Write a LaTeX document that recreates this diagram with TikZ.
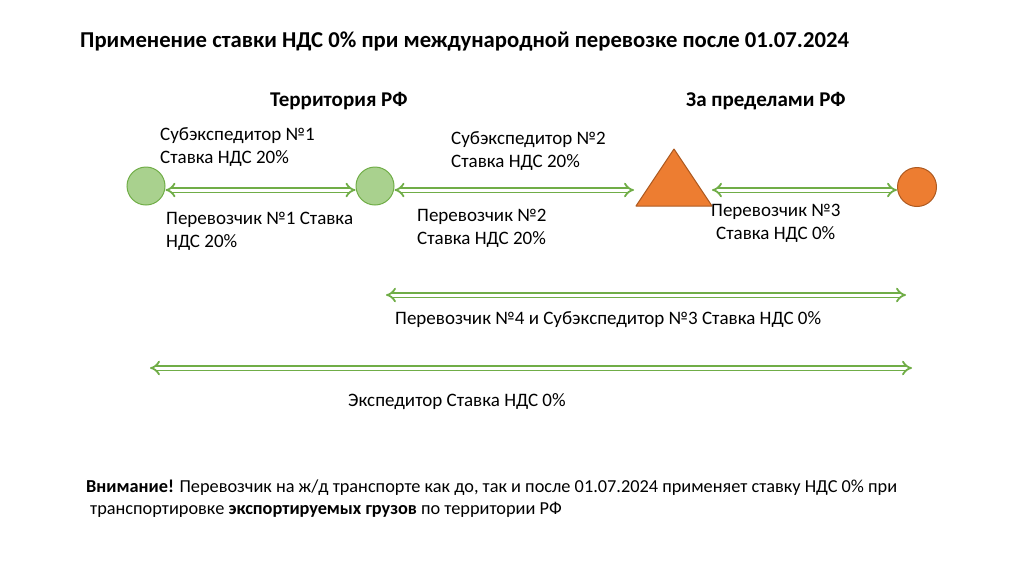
\documentclass[tikz,border=0pt]{standalone}
\usepackage{fontspec}
\setmainfont{Carlito}
\usetikzlibrary{arrows.meta,positioning}
\definecolor{vatGreen}{RGB}{169,209,142}
\definecolor{vatGreenLine}{RGB}{112,173,71}
\definecolor{vatOrange}{RGB}{237,125,49}
\definecolor{vatOrangeLine}{RGB}{174,90,33}

\begin{document}
\begin{tikzpicture}[
  x=1pt, y=-1pt,
  font=\fontsize{19}{23}\selectfont,
  ru/.style={circle, draw=vatGreenLine, line width=1pt, fill=vatGreen, minimum size=38pt, inner sep=0pt},
  abroad/.style={circle, draw=vatOrangeLine, line width=1pt, fill=vatOrange, minimum size=39pt, inner sep=0pt},
  tri/.style={draw=vatOrangeLine, line width=1pt, fill=vatOrange, line join=round},
  dbl/.style={draw=vatGreenLine, line width=1.8pt, double=white, double distance=3pt, {Implies[scale=1.55]}-{Implies[scale=1.55]}},
  lbl/.style={anchor=north west, align=left, inner sep=0pt},
  head/.style={anchor=north west, inner sep=0pt, font=\fontsize{21}{25}\selectfont\bfseries},
]
\useasboundingbox (0,0) rectangle (1024,574);

\node[anchor=north west, inner sep=0pt, font=\fontsize{22.7}{27}\selectfont\bfseries] (title) at (80,32)
  {Применение ставки НДС 0\% при международной перевозке после 01.07.2024};

% ======================= zones =======================
\node[head] (inRF)  at (270,92) {Территория РФ};
\node[head] (outRF) at (686,92) {За пределами РФ};

% ======================= points =======================
\node[ru] (p1) at (146,186) {};
\node[ru] (p2) at (375,186) {};
\draw[tri] (674,149) -- (712,206) -- (636,206) -- cycle;
\coordinate (border-w) at (634,190);
\coordinate (border-e) at (712,190);
\node[abroad] (p4) at (917,187) {};

% ======================= legs =======================
\draw[dbl] ([yshift=-4pt]p1.east) -- ([yshift=-4pt]p2.west);
\draw[dbl] ([yshift=-4pt]p2.east) -- (border-w);
\draw[dbl] (border-e) -- ([yshift=-3pt]p4.west);

\node[lbl] (sub1) at (160,127) {Субэкспедитор №1\\Ставка НДС 20\%};
\node[lbl] (car1) at (166,212) {Перевозчик №1 Ставка\\НДС 20\%};
\node[lbl] (sub2) at (451,131) {Субэкспедитор №2\\Ставка НДС 20\%};
\node[lbl] (car2) at (417,209) {Перевозчик №2\\Ставка НДС 20\%};
\node[lbl] (car3) at (711,204) {Перевозчик №3\\\hspace{5pt}Ставка НДС 0\%};

% ======================= long legs =======================
\coordinate (c4-w) at (386,295);
\coordinate (c4-e) at (906,295);
\draw[dbl] (c4-w) -- (c4-e);
\node[lbl] (car4) at (395,311) {Перевозчик №4 и Субэкспедитор №3 Ставка НДС 0\%};

\coordinate (fw-w) at (150,368);
\coordinate (fw-e) at (912,368);
\draw[dbl] (fw-w) -- (fw-e);
\node[lbl] (fwd) at (348,393) {Экспедитор Ставка НДС 0\%};

% ======================= note =======================
\node[lbl, font=\fontsize{18.3}{22}\selectfont] (note) at (86,480)
  {\textbf{Внимание!} Перевозчик на ж/д транспорте как до, так и после 01.07.2024 применяет ставку НДС 0\% при\\
   \hspace{4pt}транспортировке \textbf{экспортируемых грузов} по территории РФ};

\end{tikzpicture}
\end{document}
